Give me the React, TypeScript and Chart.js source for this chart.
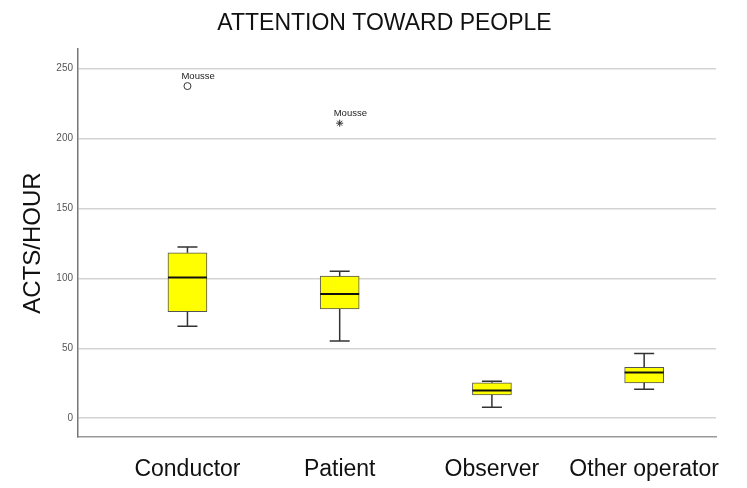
import React, { useEffect, useRef } from "react";
import { Chart, registerables } from "chart.js";

Chart.register(...registerables);

const TITLE = "ATTENTION TOWARD PEOPLE";
const Y_TITLE = "ACTS/HOUR";
const categories = ["Conductor", "Patient", "Observer", "Other operator"];
const whiskerMin = [65.7, 55.2, 7.9, 20.8];
const q1 = [76.2, 78.1, 16.7, 25.3];
const median = [100.5, 88.8, 19.8, 32.7];
const q3 = [118.2, 101.5, 25.3, 36.3];
const whiskerMax = [122.3, 105.0, 26.5, 46.3];
const outlierCategory = [0, 1];
const outlierValue = [237.3, 210.8];
const outlierLabel = ["Mousse", "Mousse"];
const outlierStyle = ["circle", "star"];
const yTicks = [0, 50, 100, 150, 200, 250];
const Y_MIN = -13.4;
const Y_MAX = 263.8;
const X_MIN = -0.719;
const X_MAX = 3.472;

const FONT = "'Liberation Sans', Arial, sans-serif";

const boxPlugin = {
  id: "boxWhiskers",
  afterDatasetsDraw(chart: any) {
    const { ctx } = chart;
    const xs = chart.scales.x;
    const ys = chart.scales.y;
    const meta = chart.getDatasetMeta(0);
    ctx.save();
    categories.forEach((_, i) => {
      const x = xs.getPixelForValue(i);
      const bar = meta.data[i];
      const half = bar ? bar.width / 2 : 19;
      const cap = 10;
      ctx.strokeStyle = "#333";
      ctx.lineWidth = 1.5;
      ctx.beginPath();
      ctx.moveTo(x, ys.getPixelForValue(q3[i]));
      ctx.lineTo(x, ys.getPixelForValue(whiskerMax[i]));
      ctx.moveTo(x - cap, ys.getPixelForValue(whiskerMax[i]));
      ctx.lineTo(x + cap, ys.getPixelForValue(whiskerMax[i]));
      ctx.moveTo(x, ys.getPixelForValue(q1[i]));
      ctx.lineTo(x, ys.getPixelForValue(whiskerMin[i]));
      ctx.moveTo(x - cap, ys.getPixelForValue(whiskerMin[i]));
      ctx.lineTo(x + cap, ys.getPixelForValue(whiskerMin[i]));
      ctx.stroke();
      ctx.strokeStyle = "#111";
      ctx.lineWidth = 2;
      ctx.beginPath();
      ctx.moveTo(x - half, ys.getPixelForValue(median[i]));
      ctx.lineTo(x + half, ys.getPixelForValue(median[i]));
      ctx.stroke();
    });
    ctx.fillStyle = "#222";
    ctx.font = `9.5px ${FONT}`;
    ctx.textAlign = "left";
    ctx.textBaseline = "middle";
    outlierValue.forEach((v, k) => {
      const px = xs.getPixelForValue(outlierCategory[k]);
      const py = ys.getPixelForValue(v);
      ctx.fillText(outlierLabel[k], px - 6, py - 10);
    });
    ctx.restore();
  },
  afterDraw(chart: any) {
    const { ctx } = chart;
    ctx.save();
    ctx.fillStyle = "#111";
    ctx.font = `23px ${FONT}`;
    ctx.textAlign = "center";
    ctx.textBaseline = "middle";
    ctx.fillText(TITLE, (chart.width + 22) / 2, 24);
    ctx.restore();
  },
};

export default function App() {
  const ref = useRef<HTMLCanvasElement>(null);
  useEffect(() => {
    if (!ref.current) return;
    const chart = new Chart(ref.current, {
      type: "bar",
      data: {
        datasets: [
          {
            type: "bar",
            data: categories.map((_, i) => ({ x: i, y: [q1[i], q3[i]] })) as any,
            backgroundColor: "#ffff00",
            borderColor: "#555",
            borderWidth: 1,
            borderSkipped: false,
            barThickness: 39,
          } as any,
          {
            type: "scatter",
            data: outlierValue.map((v, k) => ({ x: outlierCategory[k], y: v })),
            pointStyle: outlierStyle as any,
            pointRadius: [3.5, 3.5],
            backgroundColor: "#fff",
            borderColor: "#333",
            borderWidth: 1,
          } as any,
        ],
      },
      options: {
        animation: false,
        responsive: false,
        maintainAspectRatio: false,
        layout: { padding: { top: 49, right: 31, left: 0, bottom: 0 } },
        plugins: {
          legend: { display: false },
          tooltip: { enabled: false },
          title: { display: false },
        },
        scales: {
          x: {
            type: "linear",
            offset: false,
            min: X_MIN,
            max: X_MAX,
            afterBuildTicks: (s: any) => {
              s.ticks = categories.map((_, i) => ({ value: i }));
            },
            ticks: {
              callback: (_v: any, i: number) => categories[i],
              padding: 11,
              font: { size: 23, family: FONT },
              color: "#111",
              maxRotation: 0,
              autoSkip: false,
            },
            grid: { display: false, offset: false },
            border: { display: true, color: "#999", width: 1.5 },
            afterFit: (s: any) => {
              s.height = 51;
            },
          },
          y: {
            type: "linear",
            min: Y_MIN,
            max: Y_MAX,
            afterBuildTicks: (s: any) => {
              s.ticks = yTicks.map((v) => ({ value: v }));
            },
            ticks: {
              padding: 5,
              font: { size: 10, family: FONT },
              color: "#555",
            },
            grid: { color: "#d3d3d3", lineWidth: 1.5, drawTicks: false },
            border: { display: true, color: "#777", width: 1.5 },
            title: {
              display: true,
              text: Y_TITLE,
              font: { size: 24, family: FONT },
              color: "#111",
              padding: { top: 18.6, bottom: 0 },
            },
            afterFit: (s: any) => {
              s.width = 78;
            },
          },
        },
      } as any,
      plugins: [boxPlugin],
    });
    return () => chart.destroy();
  }, []);
  return (
    <div style={{ position: "absolute", left: 0, top: 0, width: 747, height: 488, background: "#fff" }}>
      <canvas ref={ref} width={747} height={488} />
    </div>
  );
}
